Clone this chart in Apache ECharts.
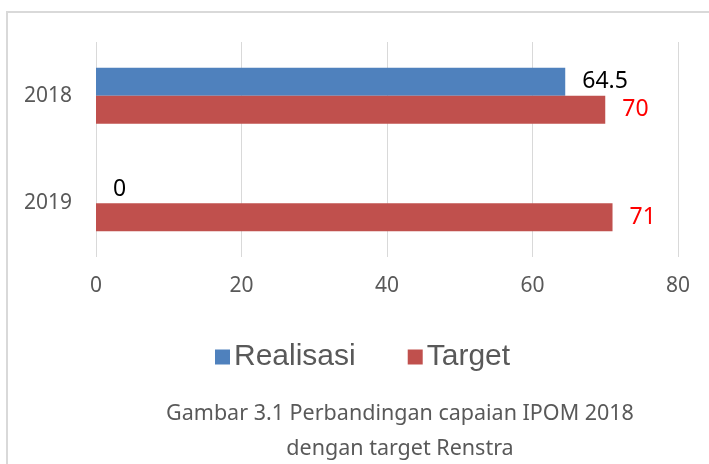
<!DOCTYPE html>
<html>
<head>
<meta charset="utf-8">
<script src="https://cdn.jsdelivr.net/npm/echarts@6/dist/echarts.min.js"></script>
<style>
html,body{margin:0;padding:0;background:#fff;}
#c{width:709px;height:464px;}
</style>
</head>
<body>
<div id="c"></div>
<script>
const categories = ['2018', '2019'];
const realisasi = [64.5, 0];
const target = [70, 71];
const xTicks = [0, 20, 40, 60, 80];
const captionLines = ['Gambar 3.1 Perbandingan capaian IPOM 2018', 'dengan target Renstra'];

const chart = echarts.init(document.getElementById('c'), null, {renderer: 'canvas'});
const numFont = 'Noto Sans';
chart.setOption({
  animation: false,
  backgroundColor: '#ffffff',
  grid: {left: 96, right: 31, top: 42, bottom: 207, containLabel: false},
  xAxis: {
    type: 'value',
    min: xTicks[0],
    max: xTicks[xTicks.length - 1],
    interval: 20,
    axisLine: {show: false},
    axisTick: {show: false},
    splitLine: {show: true, lineStyle: {color: '#d9d9d9', width: 1}},
    axisLabel: {color: '#595959', fontSize: 21, fontFamily: numFont, margin: 19}
  },
  yAxis: {
    type: 'category',
    data: categories,
    inverse: true,
    axisLine: {show: false},
    axisTick: {show: false},
    splitLine: {show: false},
    axisLabel: {color: '#595959', fontSize: 21, fontFamily: numFont, margin: 24}
  },
  legend: {
    data: ['Realisasi', 'Target'],
    left: 215,
    top: 342,
    padding: 0,
    itemWidth: 15,
    itemHeight: 15,
    itemGap: 52,
    icon: 'rect',
    textStyle: {color: '#595959', fontSize: 30, fontFamily: 'Liberation Sans', padding: [0, 0, 0, -1]}
  },
  series: [
    {
      name: 'Realisasi',
      type: 'bar',
      data: realisasi,
      barWidth: 28,
      barGap: '0%',
      itemStyle: {color: '#4f81bd'},
      label: {show: true, position: 'right', distance: 17, color: '#000000', fontSize: 23, fontFamily: numFont}
    },
    {
      name: 'Target',
      type: 'bar',
      data: target,
      barWidth: 28,
      barGap: '0%',
      itemStyle: {color: '#c0504d'},
      label: {show: true, position: 'right', distance: 17, color: '#ff0000', fontSize: 23, fontFamily: numFont}
    }
  ],
  graphic: [
    {
      type: 'polyline',
      shape: {points: [[7, 470], [7, 12], [715, 12]]},
      style: {stroke: '#d9d9d9', lineWidth: 2, fill: null},
      silent: true
    },
    {
      type: 'text',
      x: 400,
      y: 396,
      style: {
        text: captionLines.join('\n'),
        fill: '#595959',
        font: '21.5px "Noto Sans"',
        align: 'center',
        lineHeight: 35
      }
    }
  ]
});
</script>
</body>
</html>
